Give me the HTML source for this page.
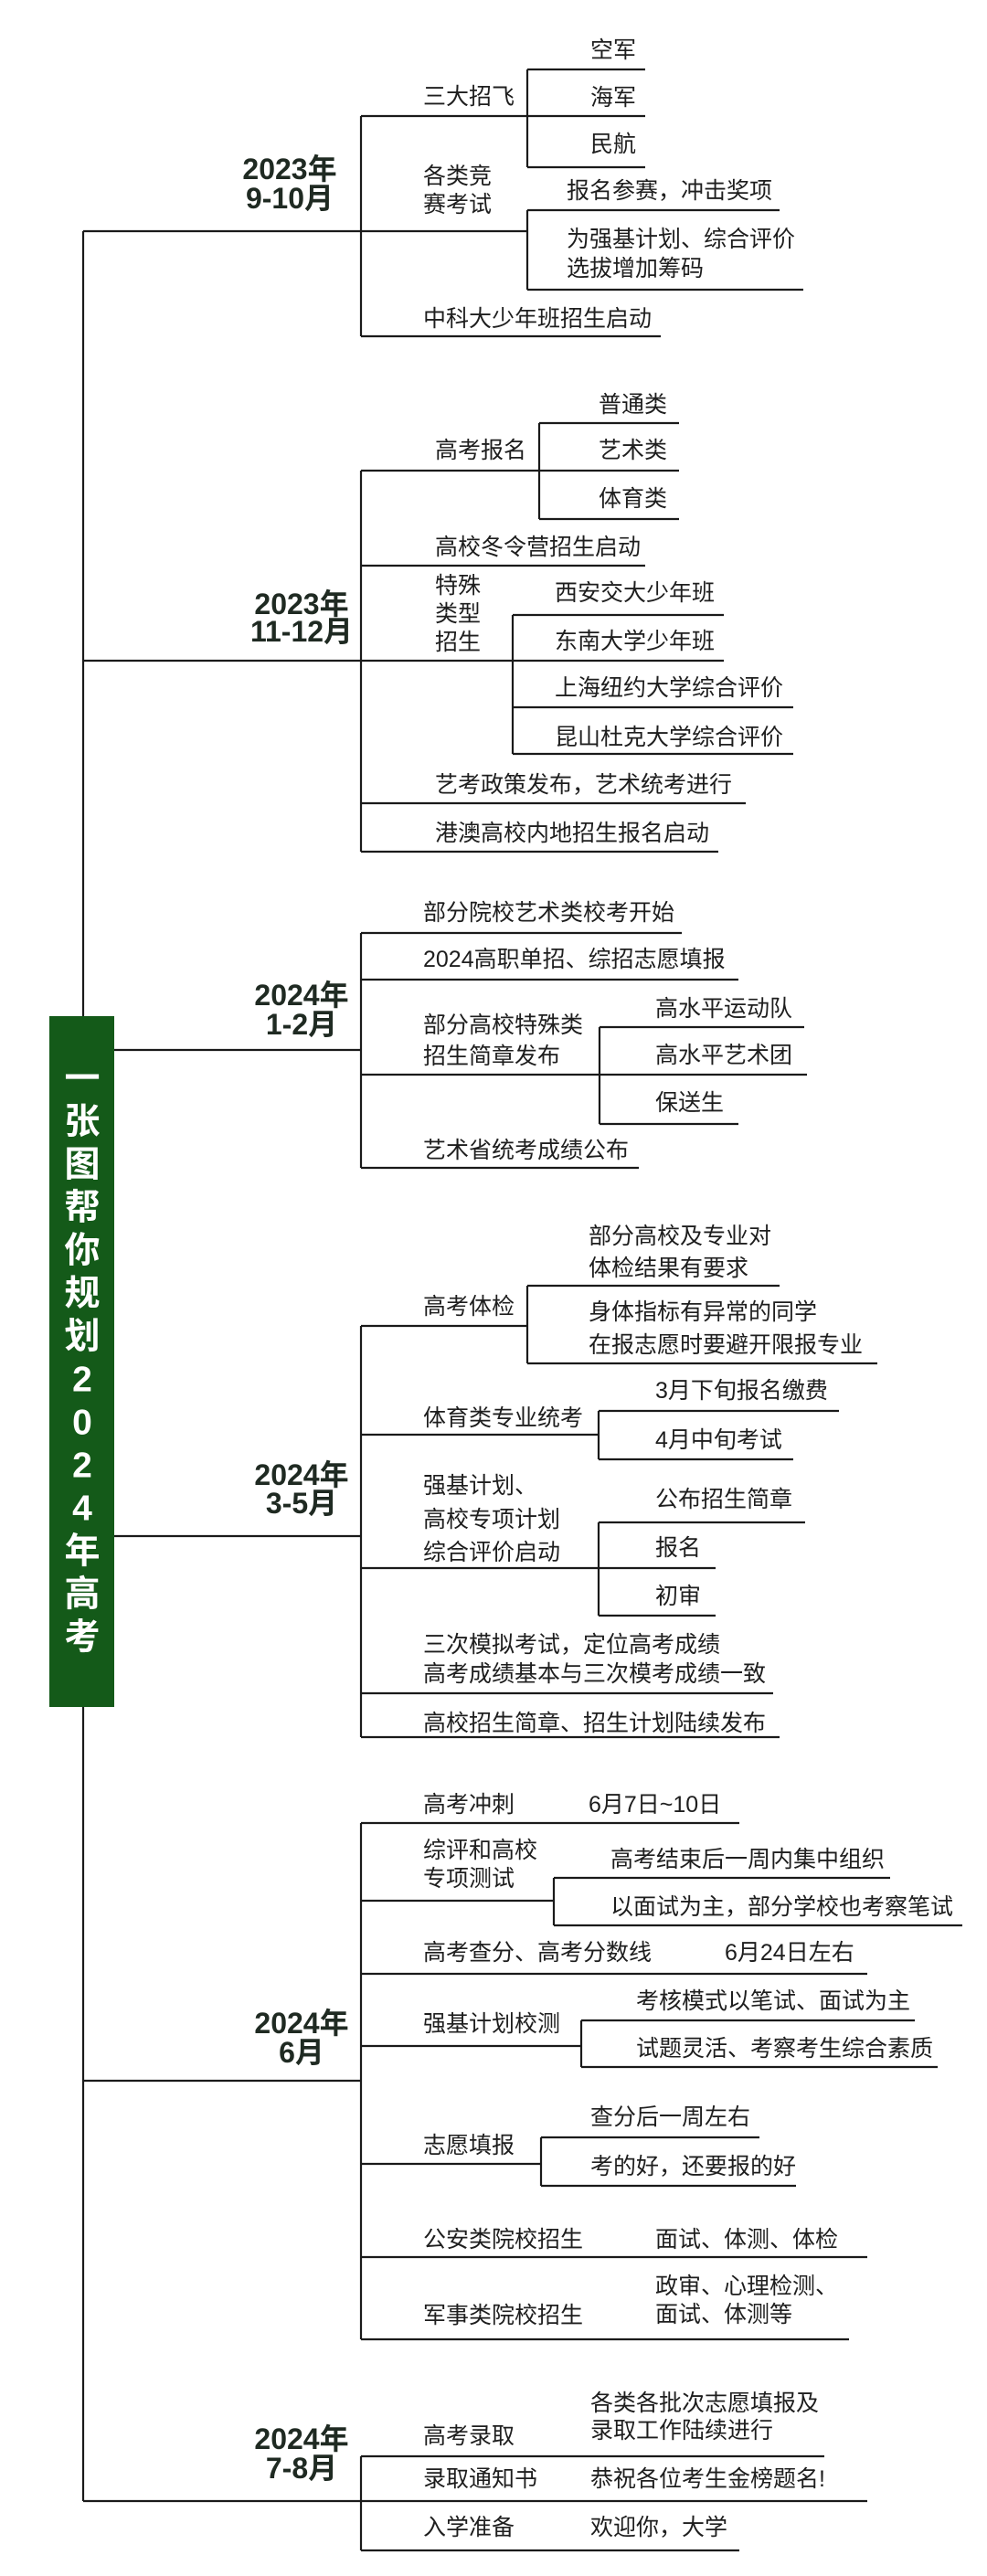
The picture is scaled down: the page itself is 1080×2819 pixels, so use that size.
<!DOCTYPE html>
<html><head><meta charset="utf-8"><style>
html,body{margin:0;padding:0;background:#fff;}
svg{display:block;}
.t{font-family:"Liberation Sans","Noto Sans CJK SC",sans-serif;font-size:25px;fill:#1e1e1e;dominant-baseline:central;}
.y{font-family:"Liberation Sans","Noto Sans CJK SC",sans-serif;font-size:32px;font-weight:bold;fill:#1f2a22;text-anchor:middle;dominant-baseline:central;}
.h{font-family:"Liberation Sans","Noto Sans CJK SC",sans-serif;font-size:39px;font-weight:bold;fill:#fff;text-anchor:middle;dominant-baseline:central;}
</style></head><body>
<svg width="1080" height="2819" viewBox="0 0 1080 2819" xmlns="http://www.w3.org/2000/svg">
<g stroke="#1a1a1a" stroke-width="2.2" fill="none">
<path d="M91 253V2737"/>
<path d="M91 253H395M395 127V368"/>
<path d="M395 127H577M577 76V183M577 76H706M577 127H706M577 183H706"/>
<path d="M395 253H577M577 230V317M577 230H853M577 317H879"/>
<path d="M395 368H723"/>
<path d="M91 723H395M395 515V932"/>
<path d="M395 515H590M590 463V568M590 463H743M590 515H743M590 568H743"/>
<path d="M395 619H706"/>
<path d="M395 723H561M561 673V825M561 673H792M561 723H792M561 774H868M561 825H868"/>
<path d="M395 879H816M395 932H786"/>
<path d="M91 1149H395M395 1021V1278"/>
<path d="M395 1021H746M395 1072H808"/>
<path d="M395 1176H656M656 1124V1230M656 1124H880M656 1176H883M656 1230H808"/>
<path d="M395 1278H699"/>
<path d="M91 1681H395M395 1451V1901"/>
<path d="M395 1451H577M577 1407V1492M577 1407H853M577 1492H960"/>
<path d="M395 1570H655M655 1544V1597M655 1544H918M655 1597H868"/>
<path d="M395 1716H655M655 1666V1768M655 1666H881M655 1716H783M655 1768H783"/>
<path d="M395 1853H846M395 1901H853"/>
<path d="M91 2277H395M395 1995V2560"/>
<path d="M395 1995H809"/>
<path d="M395 2080H606M606 2055V2107M606 2055H974M606 2107H1053"/>
<path d="M395 2160H949"/>
<path d="M395 2239H636M636 2211V2262M636 2211H1001M636 2262H1026"/>
<path d="M395 2368H592M592 2339V2392M592 2339H831M592 2392H871"/>
<path d="M395 2470H949M395 2560H929"/>
<path d="M91 2737H395M395 2688V2791"/>
<path d="M395 2688H902M395 2737H949M395 2791H809"/>
</g>
<rect x="54" y="1112" width="71" height="756" fill="#145a19"/>
<g class="h">
<text x="90" y="1181">一</text><text x="90" y="1228">张</text><text x="90" y="1275">图</text><text x="90" y="1322">帮</text><text x="90" y="1369">你</text><text x="90" y="1416">规</text><text x="90" y="1463">划</text><text x="90" y="1510">2</text><text x="90" y="1557">0</text><text x="90" y="1604">2</text><text x="90" y="1651">4</text><text x="90" y="1698">年</text><text x="90" y="1745">高</text><text x="90" y="1792">考</text>
</g>
<g class="y">
<text x="317" y="185">2023年</text><text x="317" y="217">9-10月</text>
<text x="330" y="661">2023年</text><text x="330" y="691">11-12月</text>
<text x="330" y="1089">2024年</text><text x="330" y="1121">1-2月</text>
<text x="330" y="1614">2024年</text><text x="330" y="1645">3-5月</text>
<text x="330" y="2214">2024年</text><text x="330" y="2246">6月</text>
<text x="330" y="2669">2024年</text><text x="330" y="2701">7-8月</text>
</g>
<g class="t">
<text x="463" y="106">三大招飞</text>
<text x="646" y="55">空军</text><text x="646" y="107">海军</text><text x="646" y="158">民航</text>
<text x="463" y="193">各类竞</text><text x="463" y="224">赛考试</text>
<text x="620" y="209">报名参赛，冲击奖项</text>
<text x="620" y="262">为强基计划、综合评价</text><text x="620" y="294">选拔增加筹码</text>
<text x="463" y="349">中科大少年班招生启动</text>
<text x="476" y="493">高考报名</text>
<text x="655" y="443">普通类</text><text x="655" y="493">艺术类</text><text x="655" y="546">体育类</text>
<text x="476" y="599">高校冬令营招生启动</text>
<text x="476" y="641">特殊</text><text x="476" y="672">类型</text><text x="476" y="703">招生</text>
<text x="607" y="649">西安交大少年班</text><text x="607" y="702">东南大学少年班</text>
<text x="607" y="753">上海纽约大学综合评价</text><text x="607" y="807">昆山杜克大学综合评价</text>
<text x="476" y="859">艺考政策发布，艺术统考进行</text>
<text x="476" y="912">港澳高校内地招生报名启动</text>
<text x="463" y="999">部分院校艺术类校考开始</text>
<text x="463" y="1050">2024高职单招、综招志愿填报</text>
<text x="463" y="1122">部分高校特殊类</text><text x="463" y="1156">招生简章发布</text>
<text x="717" y="1104">高水平运动队</text><text x="717" y="1155">高水平艺术团</text><text x="717" y="1207">保送生</text>
<text x="463" y="1259">艺术省统考成绩公布</text>
<text x="463" y="1430">高考体检</text>
<text x="644" y="1353">部分高校及专业对</text><text x="644" y="1388">体检结果有要求</text>
<text x="644" y="1436">身体指标有异常的同学</text><text x="644" y="1472">在报志愿时要避开限报专业</text>
<text x="463" y="1552">体育类专业统考</text>
<text x="717" y="1522">3月下旬报名缴费</text><text x="717" y="1576">4月中旬考试</text>
<text x="463" y="1626">强基计划、</text><text x="463" y="1663">高校专项计划</text><text x="463" y="1699">综合评价启动</text>
<text x="717" y="1641">公布招生简章</text><text x="717" y="1694">报名</text><text x="717" y="1747">初审</text>
<text x="463" y="1800">三次模拟考试，定位高考成绩</text><text x="463" y="1832">高考成绩基本与三次模考成绩一致</text>
<text x="463" y="1886">高校招生简章、招生计划陆续发布</text>
<text x="463" y="1975">高考冲刺</text><text x="644" y="1975">6月7日~10日</text>
<text x="463" y="2025">综评和高校</text><text x="463" y="2056">专项测试</text>
<text x="668" y="2035">高考结束后一周内集中组织</text><text x="668" y="2087">以面试为主，部分学校也考察笔试</text>
<text x="463" y="2137">高考查分、高考分数线</text><text x="793" y="2137">6月24日左右</text>
<text x="463" y="2215">强基计划校测</text>
<text x="696" y="2190">考核模式以笔试、面试为主</text><text x="696" y="2242">试题灵活、考察考生综合素质</text>
<text x="463" y="2348">志愿填报</text>
<text x="646" y="2317">查分后一周左右</text><text x="646" y="2371">考的好，还要报的好</text>
<text x="463" y="2451">公安类院校招生</text><text x="717" y="2451">面试、体测、体检</text>
<text x="463" y="2534">军事类院校招生</text><text x="717" y="2502">政审、心理检测、</text><text x="717" y="2533">面试、体测等</text>
<text x="463" y="2666">高考录取</text>
<text x="646" y="2630">各类各批次志愿填报及</text><text x="646" y="2660">录取工作陆续进行</text>
<text x="463" y="2713">录取通知书</text><text x="646" y="2713">恭祝各位考生金榜题名!</text>
<text x="463" y="2766">入学准备</text><text x="646" y="2766">欢迎你，大学</text>
</g>
</svg>
</body></html>
